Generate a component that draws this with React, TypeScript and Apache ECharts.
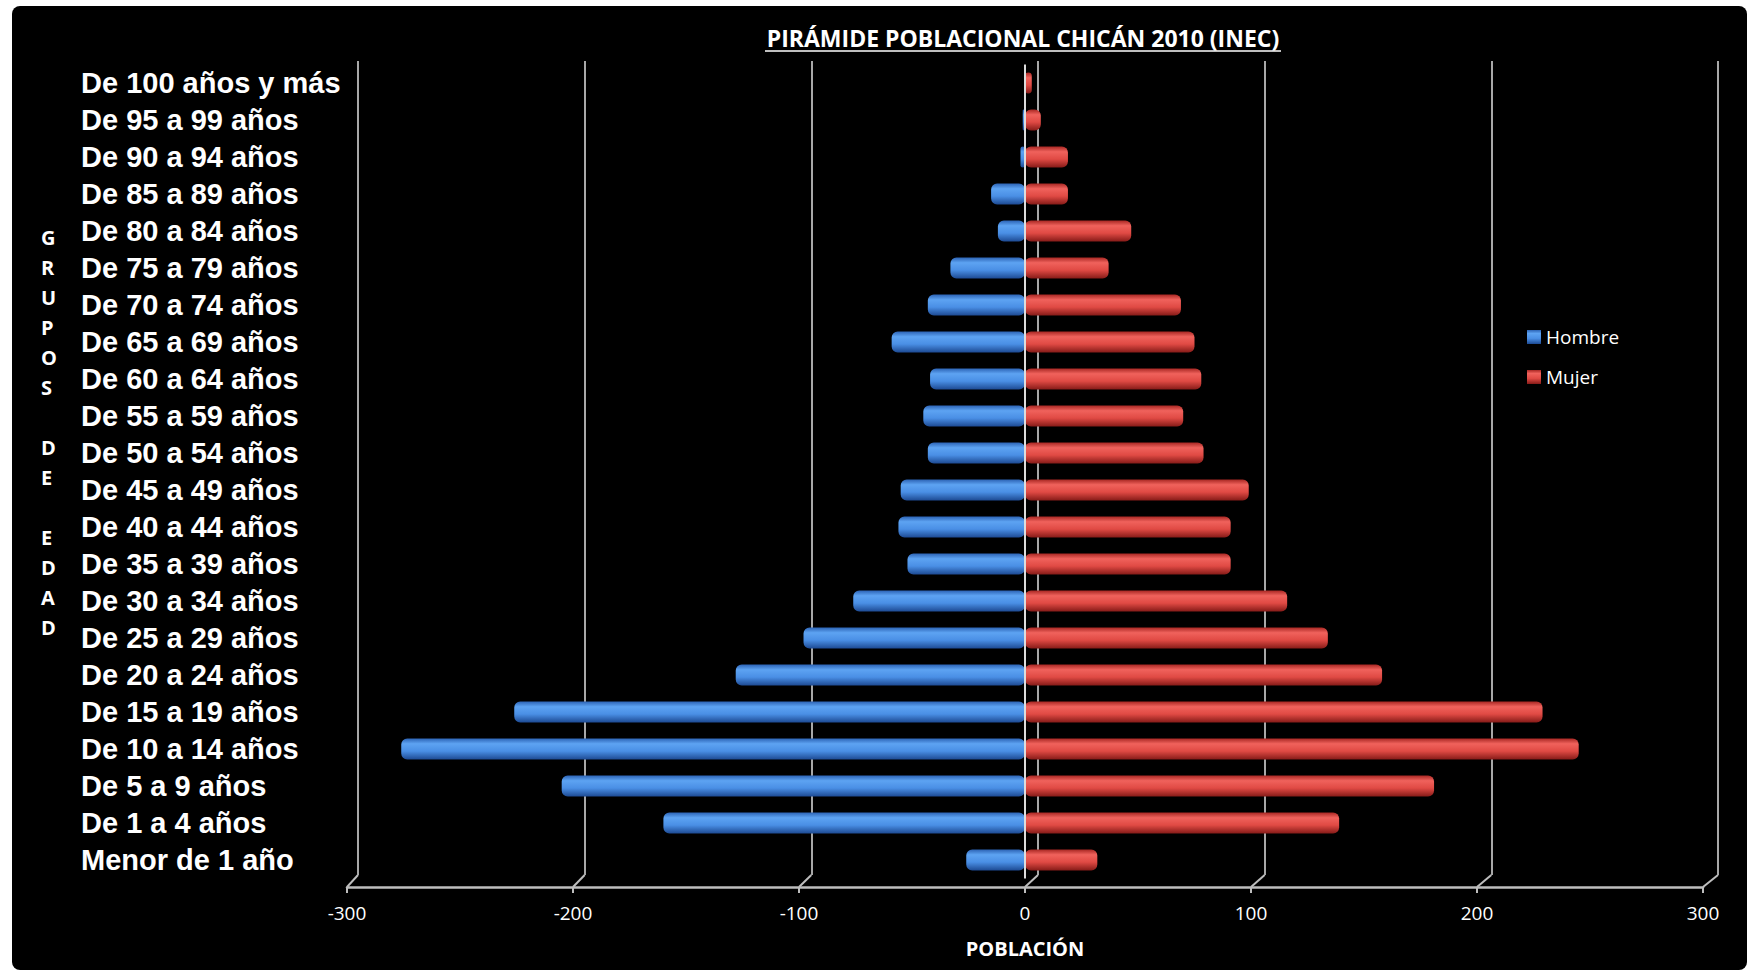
import React, { useEffect, useRef } from "react";
import * as echarts from "echarts";

// Age groups, bottom to top (ECharts category y-axis starts at the bottom)
const categories = [
  "Menor de 1 año",
  "De 1 a 4 años",
  "De 5 a 9 años",
  "De 10 a 14 años",
  "De 15 a 19 años",
  "De 20 a 24 años",
  "De 25 a 29 años",
  "De 30 a 34 años",
  "De 35 a 39 años",
  "De 40 a 44 años",
  "De 45 a 49 años",
  "De 50 a 54 años",
  "De 55 a 59 años",
  "De 60 a 64 años",
  "De 65 a 69 años",
  "De 70 a 74 años",
  "De 75 a 79 años",
  "De 80 a 84 años",
  "De 85 a 89 años",
  "De 90 a 94 años",
  "De 95 a 99 años",
  "De 100 años y más",
];

const hombre = [26, 160, 205, 276, 226, 128, 98, 76, 52, 56, 55, 43, 45, 42, 59, 43, 33, 12, 15, 2, 1, 0];
const mujer = [32, 139, 181, 245, 229, 158, 134, 116, 91, 91, 99, 79, 70, 78, 75, 69, 37, 47, 19, 19, 7, 3];

const xTicks = [-300, -200, -100, 0, 100, 200, 300];

const titleText = "PIRÁMIDE POBLACIONAL CHICÁN 2010 (INEC)";
const yTitleText = "G\nR\nU\nP\nO\nS\n\nD\nE\n\nE\nD\nA\nD";
const xName = "POBLACIÓN";

// layout (chart coordinates)
const FRONT = { left: 335, top: 58.5, width: 1356, height: 814 };
const BACK = { left: 346, top: 55, width: 1360, height: 814 };
const FLOOR_OFFSET = 8.5;

const blueGrad = new echarts.graphic.LinearGradient(0, 0, 0, 1, [
  { offset: 0, color: "#2c63b5" },
  { offset: 0.25, color: "#5da3f2" },
  { offset: 0.6, color: "#4a8fe5" },
  { offset: 1, color: "#1d4a93" },
]);
const redGrad = new echarts.graphic.LinearGradient(0, 0, 0, 1, [
  { offset: 0, color: "#a82723" },
  { offset: 0.25, color: "#f0625c" },
  { offset: 0.6, color: "#e04a44" },
  { offset: 1, color: "#861b18" },
]);

export default function App() {
  const ref = useRef<HTMLDivElement>(null);

  useEffect(() => {
    if (!ref.current) return;
    const chart = echarts.init(ref.current, undefined, { renderer: "svg" });

    const baseGraphic: any[] = [
      {
        type: "text",
        left: 29,
        top: 216,
        style: {
          text: yTitleText,
          fill: "#ffffff",
          font: '700 20px "Open Sans"',
          lineHeight: 30,
          align: "center",
        },
      },
      {
        type: "line",
        shape: { x1: 753, y1: 45, x2: 1269, y2: 45 },
        style: { stroke: "#ffffff", lineWidth: 1.5 },
      },
    ];

    const option: any = {
      animation: false,
      backgroundColor: "transparent",
      title: {
        text: titleText,
        left: 1011,
        top: 20,
        padding: 0,
        textAlign: "center",
        textStyle: {
          color: "#ffffff",
          fontFamily: "Open Sans",
          fontWeight: "bold",
          fontSize: 23,
          lineHeight: 24,
        },
      },
      legend: {
        data: ["Hombre", "Mujer"],
        orient: "vertical",
        left: 1510,
        top: 316,
        itemWidth: 14,
        itemHeight: 14,
        itemGap: 20,
        icon: "rect",
        textStyle: {
          color: "#ffffff",
          fontFamily: "Open Sans",
          fontSize: 19,
          lineHeight: 20,
        },
      },
      grid: [
        { ...FRONT, containLabel: false },
        { ...BACK, containLabel: false },
      ],
      xAxis: [
        {
          type: "value",
          gridIndex: 0,
          min: -300,
          max: 300,
          interval: 100,
          offset: FLOOR_OFFSET,
          axisLine: { show: true, onZero: false, lineStyle: { color: "#bdbdbd", width: 2.5 } },
          axisTick: { show: true, length: 6, lineStyle: { color: "#bdbdbd", width: 2 } },
          splitLine: { show: false },
          axisLabel: {
            color: "#ffffff",
            fontFamily: "Open Sans",
            fontSize: 19,
            lineHeight: 20,
            margin: 16,
          },
          name: xName,
          nameLocation: "middle",
          nameGap: 51,
          nameTextStyle: {
            color: "#ffffff",
            fontFamily: "Open Sans",
            fontWeight: "bold",
            fontSize: 20,
          },
        },
        {
          type: "value",
          gridIndex: 1,
          min: -300,
          max: 300,
          interval: 100,
          axisLine: { show: false },
          axisTick: { show: false },
          axisLabel: { show: false },
          splitLine: { show: true, lineStyle: { color: "#a8a8a8", width: 2 } },
        },
      ],
      yAxis: [
        {
          type: "category",
          gridIndex: 0,
          data: categories,
          axisLine: { show: false },
          axisTick: { show: false },
          splitLine: { show: false },
          axisLabel: {
            interval: 0,
            align: "left",
            margin: 266,
            color: "#ffffff",
            fontFamily: "Liberation Sans",
            fontWeight: "bold",
            fontSize: 29,
            padding: [0, 0, 14, 0],
          },
        },
        {
          type: "category",
          gridIndex: 1,
          data: categories,
          show: false,
        },
      ],
      series: [
        {
          name: "Hombre",
          type: "bar",
          xAxisIndex: 0,
          yAxisIndex: 0,
          data: hombre.map((v) => -v),
          barWidth: 21,
          barGap: "-100%",
          itemStyle: { color: blueGrad, borderRadius: 6 },
        },
        {
          name: "Mujer",
          type: "bar",
          xAxisIndex: 0,
          yAxisIndex: 0,
          data: mujer,
          barWidth: 21,
          barGap: "-100%",
          itemStyle: { color: redGrad, borderRadius: 6 },
          markLine: {
            silent: true,
            symbol: ["none", "none"],
            label: { show: false },
            lineStyle: { color: "#dcdcdc", width: 2, type: "solid" },
            data: [{ xAxis: 0 }],
          },
        },
      ],
      graphic: baseGraphic,
    };

    chart.setOption(option);

    // 3D floor connectors between the front axis ticks and the back wall gridlines
    const floorY = FRONT.top + FRONT.height + FLOOR_OFFSET;
    const backY = BACK.top + BACK.height;
    const connectors = xTicks.map((v) => {
      const xf = chart.convertToPixel({ xAxisIndex: 0 }, v) as number;
      const xb = chart.convertToPixel({ xAxisIndex: 1 }, v) as number;
      return {
        type: "line",
        shape: { x1: xf, y1: floorY, x2: xb, y2: backY },
        style: { stroke: "#bdbdbd", lineWidth: 2 },
      };
    });
    chart.setOption({ graphic: [...baseGraphic, ...connectors] });

    return () => chart.dispose();
  }, []);

  return (
    <div style={{ position: "fixed", inset: 0, background: "#ffffff" }}>
      <div
        ref={ref}
        style={{
          position: "absolute",
          left: 12,
          top: 6,
          width: 1735,
          height: 964,
          background: "#000000",
          borderRadius: 8,
          overflow: "hidden",
        }}
      />
    </div>
  );
}
